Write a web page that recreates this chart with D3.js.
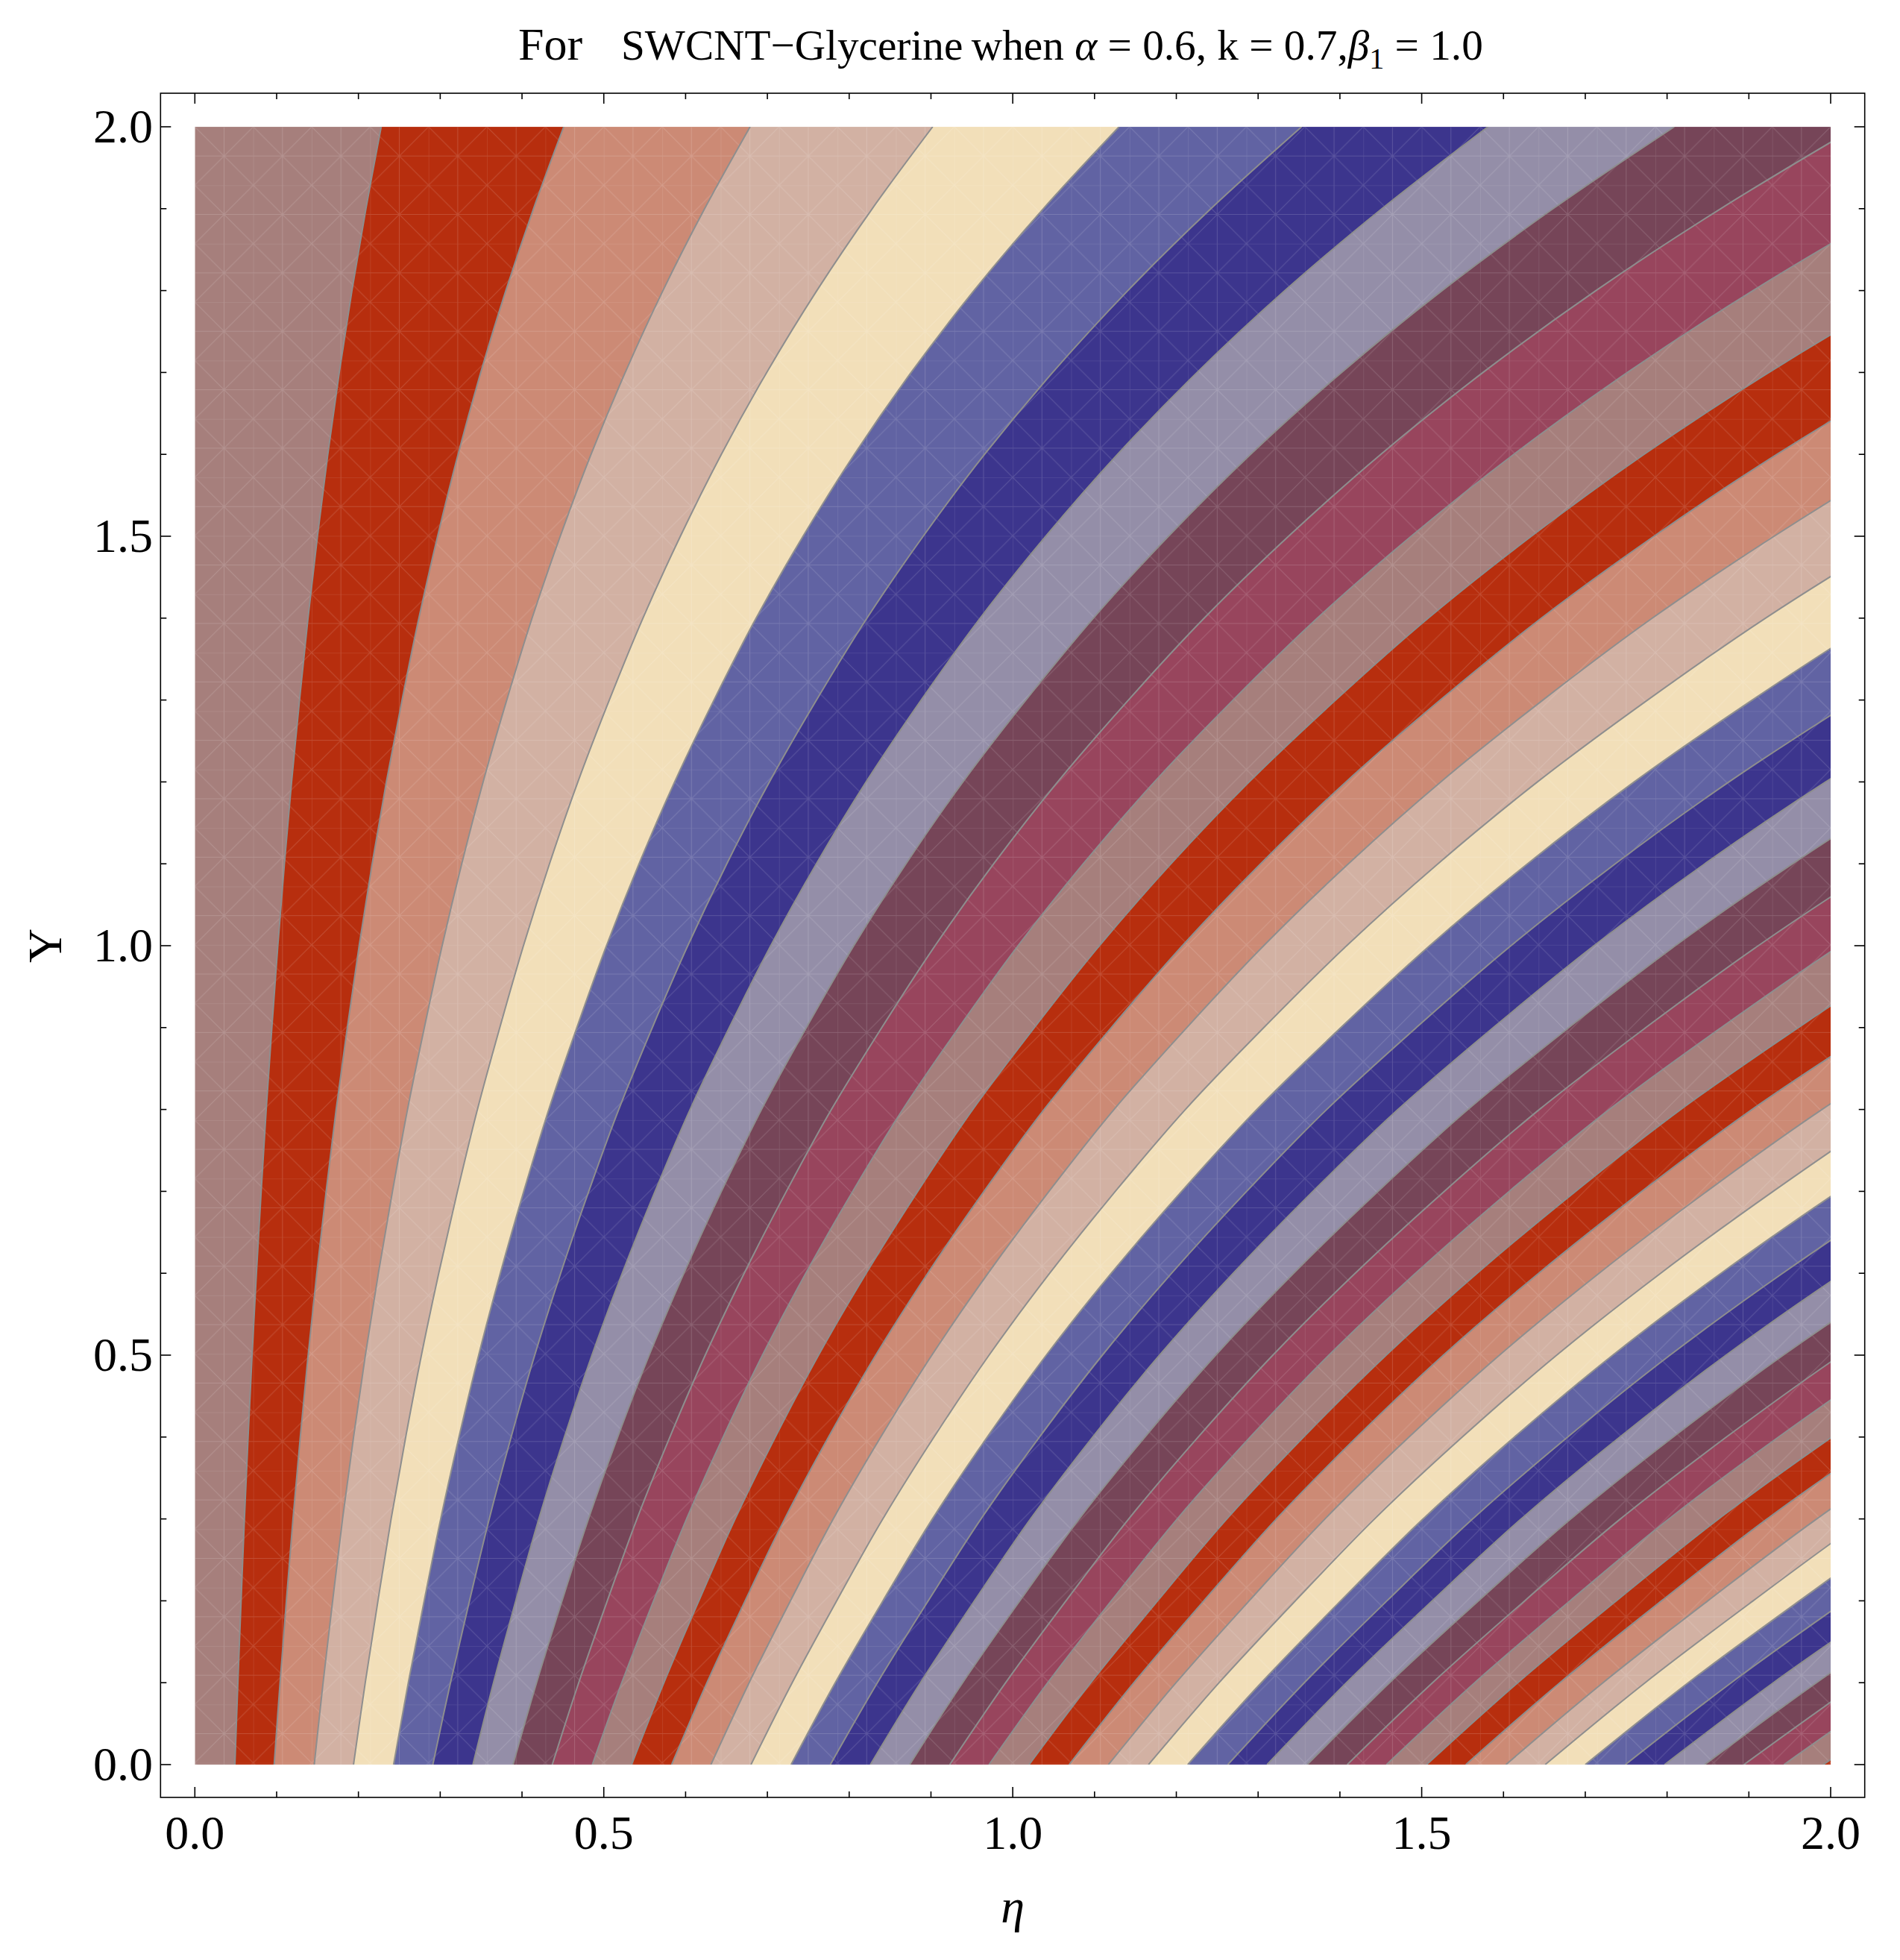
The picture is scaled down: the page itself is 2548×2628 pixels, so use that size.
<!DOCTYPE html>
<html><head><meta charset="utf-8">
<script src="https://cdn.jsdelivr.net/npm/d3@7"></script>
<style>body{margin:0;background:#fff}svg{display:block}</style>
</head><body>
<svg id="chart" width="2548" height="2628"></svg>
<script>
// ---- data ----
// eta where each contour line meets Y = 0
const contourEtaAtY0 = [0.049,0.097,0.146,0.194,0.243,0.291,0.340,0.389,0.437,0.486,
  0.534,0.583,0.631,0.680,0.729,0.777,0.826,0.874,0.923,0.971,
  1.020,1.069,1.117,1.166,1.214,1.263,1.311,1.360,1.409,1.457,
  1.506,1.554,1.603,1.651,1.700,1.749,1.797,1.846,1.894,1.943,1.991];
// how far each contour line has moved right at height Y (ratio to its eta at Y = 0)
const profileY = [0,0.1,0.2,0.3,0.4,0.5,0.6,0.7,0.8,0.9,1.0,1.1,1.2,1.3,1.4,1.5,1.6,1.7,1.8,1.9,2.0];
const profileStretch = [1.000,1.074,1.154,1.237,1.329,1.428,1.537,1.655,1.781,1.922,2.071,
  2.235,2.414,2.612,2.824,3.060,3.318,3.604,3.920,4.269,4.650];
const bandColors = ["#a67f7c","#b72e0e","#cc8a75","#d2b1a3","#f2dfb9",
  "#6163a3","#3c358d","#948ea8","#764558","#98455d"];
const majorTicks = [0,0.5,1.0,1.5,2.0];
const majorTickLabels = ["0.0","0.5","1.0","1.5","2.0"];
const minorTicks = [0.1,0.2,0.3,0.4,0.6,0.7,0.8,0.9,1.1,1.2,1.3,1.4,1.6,1.7,1.8,1.9];

// ---- layout ----
const plot = {l:261.3, r:2455, t:170, b:2366};
const frame = {l:215.3, r:2500.7, t:125, b:2410};
const FONT = "'Liberation Serif','Times New Roman',serif";

const svg = d3.select("#chart");
const x = d3.scaleLinear().domain([0,2]).range([plot.l, plot.r]);
const y = d3.scaleLinear().domain([0,2]).range([plot.b, plot.t]);

const defs = svg.append("defs");
defs.append("clipPath").attr("id","clip").append("rect")
  .attr("x",plot.l).attr("y",plot.t).attr("width",plot.r-plot.l).attr("height",plot.b-plot.t);

// faint triangulation mesh like the reference rendering
const cell = (plot.r-plot.l)/56;
const pat = defs.append("pattern").attr("id","mesh").attr("patternUnits","userSpaceOnUse")
  .attr("x",plot.l).attr("y",plot.t).attr("width",2*cell).attr("height",2*cell);
const pg = pat.append("g").attr("stroke","#fff").attr("stroke-width",1.1).attr("fill","none");
pg.append("path").attr("d",`M0,0H${2*cell}M0,${cell}H${2*cell}M0,0V${2*cell}M${cell},0V${2*cell}M0,0L${2*cell},${2*cell}M${2*cell},0L0,${2*cell}`);

const gPlot = svg.append("g").attr("clip-path","url(#clip)");
const levels = [0, ...contourEtaAtY0];
const line = d3.line().x(d=>x(d[0])).y(d=>y(d[1])).curve(d3.curveCatmullRom.alpha(0.5));
const ptsFor = lv => profileY.map((Y,i)=>[lv*profileStretch[i], Y]);

levels.forEach((lv,j)=>{
  const d = line(ptsFor(lv)) + `L${x(12)},${y(2)}L${x(12)},${y(0)}Z`;
  gPlot.append("path").attr("d",d).attr("fill",bandColors[j%10]);
});
gPlot.append("rect").attr("x",plot.l).attr("y",plot.t)
  .attr("width",plot.r-plot.l).attr("height",plot.b-plot.t)
  .attr("fill","url(#mesh)").attr("opacity",0.15);
levels.slice(1).forEach(lv=>{
  gPlot.append("path").attr("d",line(ptsFor(lv)))
    .attr("fill","none").attr("stroke","#8e8e8e").attr("stroke-width",2);
});

// ---- frame & ticks ----
svg.append("rect").attr("x",frame.l).attr("y",frame.t)
  .attr("width",frame.r-frame.l).attr("height",frame.b-frame.t)
  .attr("fill","none").attr("stroke","#000").attr("stroke-width",1.6);
const tg = svg.append("g").attr("stroke","#000").attr("stroke-width",1.6);
const ticks = [...majorTicks.map(v=>({v,len:14})), ...minorTicks.map(v=>({v,len:8}))];
ticks.forEach(({v,len})=>{
  const xv = x(v), yv = y(v);
  tg.append("line").attr("x1",xv).attr("x2",xv).attr("y1",frame.b).attr("y2",frame.b-len);
  tg.append("line").attr("x1",xv).attr("x2",xv).attr("y1",frame.t).attr("y2",frame.t+len);
  tg.append("line").attr("y1",yv).attr("y2",yv).attr("x1",frame.l).attr("x2",frame.l+len);
  tg.append("line").attr("y1",yv).attr("y2",yv).attr("x1",frame.r).attr("x2",frame.r-len);
});
const lg = svg.append("g").attr("font-family",FONT).attr("font-size",64).attr("fill","#000");
majorTicks.forEach((v,i)=>{
  lg.append("text").attr("x",x(v)).attr("y",2479).attr("text-anchor","middle").text(majorTickLabels[i]);
  lg.append("text").attr("x",205).attr("y",y(v)+21).attr("text-anchor","end").text(majorTickLabels[i]);
});
// axis labels
lg.append("text").attr("x",1358).attr("y",2577).attr("text-anchor","middle")
  .attr("font-style","italic").text("η");
lg.append("text").attr("transform","translate(82,1268) rotate(-90)").attr("text-anchor","middle").text("Y");

// ---- title ----
const tt = svg.append("g").attr("font-family",FONT).attr("fill","#000");
tt.append("text").attr("x",695).attr("y",80).attr("font-size",62).text("For");
const rest = tt.append("text").attr("x",833).attr("y",80).attr("font-size",57);
rest.append("tspan").text("SWCNT\u2212Glycerine\u2009when ");
rest.append("tspan").attr("font-style","italic").text("α");
rest.append("tspan").text(" = 0.6, k = 0.7,");
rest.append("tspan").attr("font-style","italic").text("β");
rest.append("tspan").attr("font-size","0.7em").attr("dy",12).text("1");
rest.append("tspan").attr("dy",-12).text(" = 1.0");
const wNow = rest.node().getComputedTextLength();
rest.attr("font-size", 57*1156/wNow);
</script>
</body></html>
